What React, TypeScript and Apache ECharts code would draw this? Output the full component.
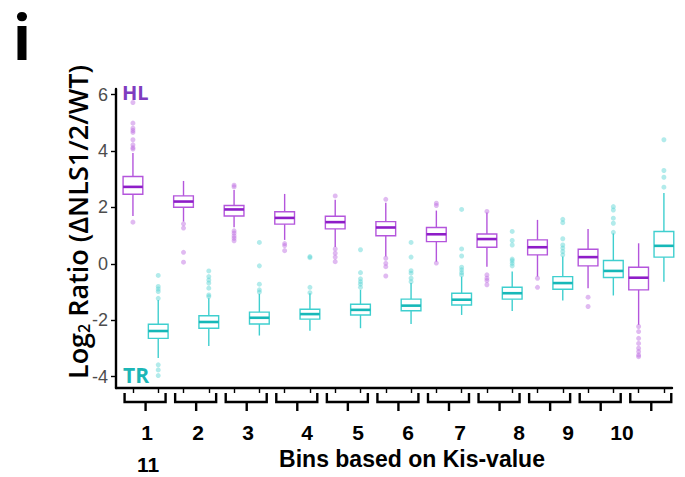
import React, { useEffect, useRef } from 'react';
import * as echarts from 'echarts';

// ---- data ----
const binLabels = ['1', '2', '3', '4', '5', '6', '7', '8', '9', '10'];
const binExtraLabel = '11';
const yTickValues = [-4, -2, 0, 2, 4, 6];

const hlLow = [1.70, 1.50, 1.30, 0.85, 0.60, 0.26, 0.08, -0.10, -0.45, -0.86, -2.16];
const hlQ1 = [2.47, 2.01, 1.70, 1.41, 1.24, 1.00, 0.79, 0.59, 0.32, -0.07, -0.92];
const hlMed = [2.73, 2.21, 1.93, 1.63, 1.48, 1.29, 1.05, 0.88, 0.59, 0.24, -0.49];
const hlQ3 = [3.10, 2.41, 2.07, 1.85, 1.69, 1.50, 1.29, 1.06, 0.85, 0.52, -0.12];
const hlHigh = [3.93, 2.94, 2.62, 2.48, 2.27, 2.17, 1.89, 1.82, 1.56, 1.24, 0.73];
const hlOutliers = [
  [4.07, 4.12, 4.22, 4.40, 4.66, 4.73, 4.81, 4.99, 5.72, 1.48],
  [1.42, 1.27, 0.41, 0.06],
  [2.73, 2.79, 1.17, 1.09, 0.99, 0.91, 0.82],
  [0.72, 0.65, 0.47],
  [2.41, 0.53, 0.38, 0.24, 0.08],
  [2.29, 0.20, 0.02, -0.10, -0.43],
  [2.07, 2.15, 0.03],
  [1.86, -0.39, -0.51, -0.59, -0.74],
  [-0.51, -0.83],
  [-1.18, -1.51],
  [-2.22, -2.40, -2.64, -2.82, -2.99, -3.11, -3.23, -3.29],
];

const trLow = [-3.34, -2.91, -2.54, -2.37, -2.28, -2.13, -1.81, -1.67, -1.30, -1.12, -0.63];
const trQ1 = [-2.64, -2.28, -2.13, -1.96, -1.81, -1.66, -1.46, -1.25, -0.90, -0.48, 0.24];
const trMed = [-2.38, -2.06, -1.91, -1.78, -1.63, -1.48, -1.27, -1.04, -0.68, -0.25, 0.64];
const trQ3 = [-2.14, -1.84, -1.71, -1.61, -1.43, -1.25, -1.04, -0.83, -0.45, 0.12, 1.15];
const trHigh = [-1.28, -1.22, -1.06, -1.04, -0.92, -0.68, -0.45, -0.27, 0.26, 1.08, 2.51];
const trOutliers = [
  [-1.22, -0.98, -0.89, -0.80, -0.41, -3.58, -3.76, -3.96],
  [-1.16, -1.10, -0.86, -0.68, -0.57, -0.45, -0.25],
  [-1.00, -0.92, -0.72, -0.07, 0.76],
  [-1.02, -0.83, 0.22, 0.26],
  [-0.83, -0.72, -0.63, -0.53, -0.31, 0.50],
  [-0.63, -0.51, -0.33, -0.24, 0.24, 0.76],
  [-0.39, -0.31, -0.21, -0.12, 0.28, 0.53, 1.93],
  [-0.07, 0.02, 0.11, 0.17, 0.67, 0.83, 1.15],
  [0.32, 0.44, 0.56, 0.67, 0.89, 1.46, 1.58],
  [1.12, 1.44, 1.62, 1.91, 2.03],
  [2.72, 3.07, 3.31, 4.40],
];

// ---- layout / style ----
const Y_MIN = -4.4;
const Y_MAX = 6.2;
const X_MIN = 0.33;
const X_MAX = 22.32;
const labelXs = [147, 198, 248, 307, 358, 408, 460, 519, 568, 622];

const HL_BOX = '#B455DC';
const HL_MED = '#8E1DC8';
const HL_DOT = 'rgba(190,110,225,0.6)';
const HL_TEXT = '#7F3CC0';
const TR_BOX = '#3FCFCF';
const TR_MED = '#16B8B8';
const TR_DOT = 'rgba(80,210,210,0.55)';
const TR_TEXT = '#1CB6B6';
const FONT = '"Open Sans"';
const FONT2 = '"Liberation Sans"';

export default function App() {
  const ref = useRef<HTMLDivElement>(null);

  useEffect(() => {
    const chart = echarts.init(ref.current!, null, { renderer: 'svg' });

    const boxData: number[][] = [];
    hlLow.forEach((_, k) => {
      boxData.push([2 * k + 1, hlLow[k], hlQ1[k], hlMed[k], hlQ3[k], hlHigh[k], 0]);
      boxData.push([2 * k + 2, trLow[k], trQ1[k], trMed[k], trQ3[k], trHigh[k], 1]);
    });
    const hlDots: number[][] = [];
    hlOutliers.forEach((arr, k) => arr.forEach((v) => hlDots.push([2 * k + 1, v])));
    const trDots: number[][] = [];
    trOutliers.forEach((arr, k) => arr.forEach((v) => trDots.push([2 * k + 2, v])));
    const pairData = hlLow.map((_, k) => [2 * k + 1, 2 * k + 2]);
    const xTicks = boxData.map((d) => d[0]);

    const renderBox = (params: any, api: any) => {
      const x = api.value(0);
      const lo = api.coord([x, api.value(1)]);
      const q1 = api.coord([x, api.value(2)]);
      const md = api.coord([x, api.value(3)]);
      const q3 = api.coord([x, api.value(4)]);
      const hi = api.coord([x, api.value(5)]);
      const w = api.size([0.78, 0])[0];
      const isTR = api.value(6) === 1;
      const stroke = isTR ? TR_BOX : HL_BOX;
      const med = isTR ? TR_MED : HL_MED;
      return {
        type: 'group',
        children: [
          { type: 'line', shape: { x1: lo[0], y1: lo[1], x2: q1[0], y2: q1[1] }, style: { stroke, lineWidth: 1.4 } },
          { type: 'line', shape: { x1: q3[0], y1: q3[1], x2: hi[0], y2: hi[1] }, style: { stroke, lineWidth: 1.4 } },
          {
            type: 'rect',
            shape: { x: q3[0] - w / 2, y: q3[1], width: w, height: q1[1] - q3[1] },
            style: { fill: '#ffffff', stroke, lineWidth: 1.4 },
          },
          {
            type: 'line',
            shape: { x1: md[0] - w / 2, y1: md[1], x2: md[0] + w / 2, y2: md[1] },
            style: { stroke: med, lineWidth: 2.6 },
          },
        ],
      };
    };

    const renderBracket = (params: any, api: any) => {
      const a = api.coord([api.value(0), Y_MIN]);
      const b = api.coord([api.value(1), Y_MIN]);
      const c = (a[0] + b[0]) / 2;
      const y0 = a[1];
      return {
        type: 'group',
        children: [
          {
            type: 'polyline',
            shape: { points: [[c - 21, y0 + 5], [c - 21, y0 + 14], [c + 20, y0 + 14], [c + 20, y0 + 5]] },
            style: { stroke: '#000', lineWidth: 2.4, fill: null },
          },
          { type: 'line', shape: { x1: c, y1: y0 + 14, x2: c, y2: y0 + 23 }, style: { stroke: '#000', lineWidth: 2.4 } },
        ],
      };
    };

    const option: any = {
      animation: false,
      backgroundColor: '#ffffff',
      grid: { left: 116, right: 13, top: 89, bottom: 89, containLabel: false },
      xAxis: {
        type: 'value',
        min: X_MIN,
        max: X_MAX,
        axisLine: { show: true, onZero: false, lineStyle: { color: '#000', width: 2.4 } },
        axisTick: { show: true, customValues: xTicks, length: 5, lineStyle: { color: '#000', width: 1.4 } },
        axisLabel: { show: false },
        splitLine: { show: false },
      },
      yAxis: {
        type: 'value',
        min: Y_MIN,
        max: Y_MAX,
        axisLine: { show: true, onZero: false, lineStyle: { color: '#000', width: 2.4 } },
        axisTick: { show: true, customValues: yTickValues, length: 5, lineStyle: { color: '#000', width: 1.4 } },
        axisLabel: {
          show: true,
          customValues: yTickValues,
          color: '#4d4d4d',
          fontSize: 18,
          fontFamily: 'Liberation Sans',
          margin: 8,
        },
        splitLine: { show: false },
      },
      series: [
        {
          type: 'custom',
          renderItem: renderBox,
          data: boxData,
          encode: { x: 0, y: [1, 2, 3, 4, 5] },
          z: 2,
        },
        {
          type: 'scatter',
          data: hlDots,
          symbolSize: 5,
          itemStyle: { color: HL_DOT },
          z: 3,
        },
        {
          type: 'scatter',
          data: trDots,
          symbolSize: 5,
          itemStyle: { color: TR_DOT },
          z: 3,
        },
        {
          type: 'custom',
          renderItem: renderBracket,
          data: pairData,
          encode: { x: [0, 1] },
          clip: false,
          silent: true,
          z: 4,
        },
      ],
      graphic: [
        {
          type: 'text',
          x: 22,
          y: 38.5,
          style: {
            text: 'i',
            font: `bold 64px Roboto`,
            fill: '#000',
            align: 'center',
            verticalAlign: 'middle',
            lineHeight: 64,
          },
        },
        {
          type: 'text',
          x: 122,
          y: 92,
          style: { text: 'HL', font: `bold 20px ${FONT}`, fill: HL_TEXT, align: 'left', verticalAlign: 'middle' },
        },
        {
          type: 'text',
          x: 123,
          y: 375,
          style: { text: 'TR', font: `bold 21px ${FONT}`, fill: TR_TEXT, align: 'left', verticalAlign: 'middle' },
        },
        {
          type: 'text',
          x: 77,
          y: 222,
          rotation: Math.PI / 2,
          style: {
            text: '{a|Log}{s|2}{a| Ratio (ΔNLS1/2/WT)}',
            align: 'center',
            verticalAlign: 'middle',
            rich: {
              a: { font: `600 27px ${FONT}`, fill: '#000', lineHeight: 32 },
              s: { font: `600 16px ${FONT}`, fill: '#000', lineHeight: 32, padding: [14, 0, 0, 0] },
            },
          },
        },
        ...binLabels.map((t, i) => ({
          type: 'text',
          x: labelXs[i],
          y: 432,
          style: {
            text: t,
            font: `bold 21px ${FONT2}`,
            fill: '#000',
            align: 'center',
            verticalAlign: 'middle',
            lineHeight: 22,
          },
        })),
        {
          type: 'text',
          x: 148,
          y: 464,
          style: {
            text: binExtraLabel,
            font: `bold 21px ${FONT2}`,
            fill: '#000',
            align: 'center',
            verticalAlign: 'middle',
            lineHeight: 22,
          },
        },
        {
          type: 'text',
          x: 412,
          y: 459,
          style: {
            text: 'Bins based on Kis-value',
            font: `bold 23px ${FONT2}`,
            fill: '#000',
            align: 'center',
            verticalAlign: 'middle',
            lineHeight: 24,
          },
        },
      ],
    };

    chart.setOption(option);
    return () => chart.dispose();
  }, []);

  return <div ref={ref} style={{ position: 'absolute', left: 0, top: 0, width: 685, height: 477 }} />;
}
